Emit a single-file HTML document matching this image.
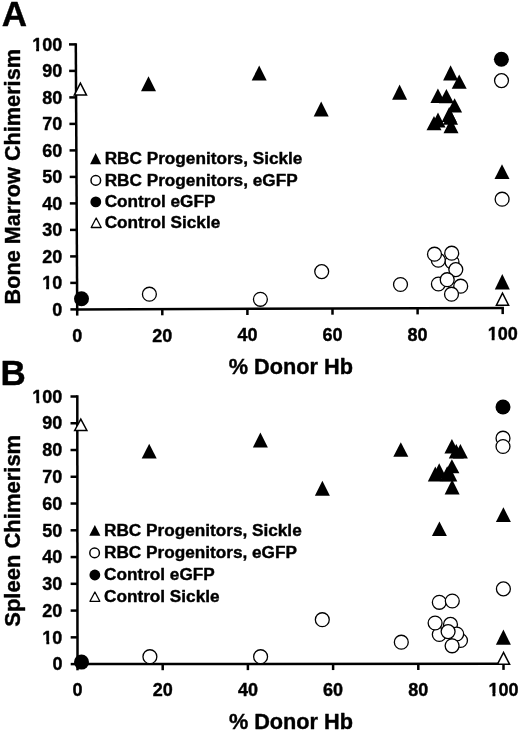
<!DOCTYPE html>
<html><head><meta charset="utf-8"><style>
html,body{margin:0;padding:0;background:#fff;width:520px;height:732px;overflow:hidden}
svg{display:block}
#w{filter:grayscale(1);width:520px;height:732px}
text{stroke:#000;stroke-width:0.4px}
</style></head><body><div id="w">
<svg width="520" height="732" viewBox="0 0 520 732" font-family='"Liberation Sans", sans-serif' font-weight="bold" stroke-linejoin="round">
<rect width="520" height="732" fill="#fff"/>
<text x="1.80" y="25.80" font-size="35" text-anchor="start" >A</text>
<text x="0.40" y="384.60" font-size="35" text-anchor="start" >B</text>
<line x1="75.95" y1="309.40" x2="503.95" y2="307.90" stroke="#000" stroke-width="2.5"/>
<line x1="77.20" y1="310.65" x2="75.80" y2="43.15" stroke="#000" stroke-width="2.5"/>
<line x1="70.40" y1="309.40" x2="77.20" y2="309.40" stroke="#000" stroke-width="2.5"/>
<text x="62.20" y="315.60" font-size="18" text-anchor="end" >0</text>
<line x1="70.26" y1="282.90" x2="77.06" y2="282.90" stroke="#000" stroke-width="2.5"/>
<text x="62.20" y="289.10" font-size="18" text-anchor="end" >10</text>
<rect x="42.11" y="286.36" width="4.05" height="4.29" fill="#fff"/>
<rect x="49.07" y="286.36" width="3.32" height="4.29" fill="#fff"/>
<line x1="70.12" y1="256.40" x2="76.92" y2="256.40" stroke="#000" stroke-width="2.5"/>
<text x="62.20" y="262.60" font-size="18" text-anchor="end" >20</text>
<line x1="69.98" y1="229.90" x2="76.78" y2="229.90" stroke="#000" stroke-width="2.5"/>
<text x="62.20" y="236.10" font-size="18" text-anchor="end" >30</text>
<line x1="69.84" y1="203.40" x2="76.64" y2="203.40" stroke="#000" stroke-width="2.5"/>
<text x="62.20" y="209.60" font-size="18" text-anchor="end" >40</text>
<line x1="69.70" y1="176.90" x2="76.50" y2="176.90" stroke="#000" stroke-width="2.5"/>
<text x="62.20" y="183.10" font-size="18" text-anchor="end" >50</text>
<line x1="69.56" y1="150.40" x2="76.36" y2="150.40" stroke="#000" stroke-width="2.5"/>
<text x="62.20" y="156.60" font-size="18" text-anchor="end" >60</text>
<line x1="69.42" y1="123.90" x2="76.22" y2="123.90" stroke="#000" stroke-width="2.5"/>
<text x="62.20" y="130.10" font-size="18" text-anchor="end" >70</text>
<line x1="69.28" y1="97.40" x2="76.08" y2="97.40" stroke="#000" stroke-width="2.5"/>
<text x="62.20" y="103.60" font-size="18" text-anchor="end" >80</text>
<line x1="69.14" y1="70.90" x2="75.94" y2="70.90" stroke="#000" stroke-width="2.5"/>
<text x="62.20" y="77.10" font-size="18" text-anchor="end" >90</text>
<line x1="69.00" y1="44.40" x2="75.80" y2="44.40" stroke="#000" stroke-width="2.5"/>
<text x="62.20" y="50.60" font-size="18" text-anchor="end" >100</text>
<rect x="32.10" y="47.86" width="4.05" height="4.29" fill="#fff"/>
<rect x="39.06" y="47.86" width="3.32" height="4.29" fill="#fff"/>
<line x1="77.20" y1="309.40" x2="77.20" y2="315.60" stroke="#000" stroke-width="2.5"/>
<text x="77.20" y="341.80" font-size="18" text-anchor="middle" >0</text>
<line x1="162.30" y1="309.10" x2="162.30" y2="315.30" stroke="#000" stroke-width="2.5"/>
<text x="162.30" y="341.50" font-size="18" text-anchor="middle" >20</text>
<line x1="247.40" y1="308.80" x2="247.40" y2="315.00" stroke="#000" stroke-width="2.5"/>
<text x="247.40" y="341.20" font-size="18" text-anchor="middle" >40</text>
<line x1="332.50" y1="308.50" x2="332.50" y2="314.70" stroke="#000" stroke-width="2.5"/>
<text x="332.50" y="340.90" font-size="18" text-anchor="middle" >60</text>
<line x1="417.60" y1="308.20" x2="417.60" y2="314.40" stroke="#000" stroke-width="2.5"/>
<text x="417.60" y="340.60" font-size="18" text-anchor="middle" >80</text>
<line x1="502.70" y1="307.90" x2="502.70" y2="314.10" stroke="#000" stroke-width="2.5"/>
<text x="502.70" y="340.30" font-size="18" text-anchor="middle" >100</text>
<rect x="487.62" y="337.56" width="4.05" height="4.29" fill="#fff"/>
<rect x="494.57" y="337.56" width="3.32" height="4.29" fill="#fff"/>
<text x="228.80" y="374.00" font-size="21.7" text-anchor="start" >% Donor Hb</text>
<text transform="translate(20.3,176.75) rotate(-90)" font-size="21.7" text-anchor="middle">Bone Marrow Chimerism</text>
<text x="104.70" y="163.90" font-size="17.2" text-anchor="start" >RBC Progenitors, Sickle</text>
<text x="104.70" y="185.80" font-size="17.2" text-anchor="start" >RBC Progenitors, eGFP</text>
<text x="104.70" y="206.90" font-size="17.2" text-anchor="start" >Control eGFP</text>
<text x="104.70" y="227.70" font-size="17.2" text-anchor="start" >Control Sickle</text>
<polygon points="95.65,153 90.1,164.2 101.2,164.2" fill="#000"/>
<circle cx="95.8" cy="180.4" r="4.8" fill="#fff" stroke="#000" stroke-width="1.5"/>
<circle cx="95.8" cy="201.9" r="5.4" fill="#000"/>
<polygon points="96.2,218.0 91.2,227.5 101.2,227.5" fill="#fff" stroke="#000" stroke-width="1.3"/>
<polygon points="148.50,76.20 141.00,91.20 156.00,91.20" fill="#000"/>
<polygon points="259.20,65.60 251.70,80.40 266.70,80.40" fill="#000"/>
<polygon points="321.20,101.50 313.70,116.50 328.70,116.50" fill="#000"/>
<polygon points="399.60,84.60 392.10,99.80 407.10,99.80" fill="#000"/>
<polygon points="450.60,65.20 443.10,80.50 458.10,80.50" fill="#000"/>
<polygon points="459.20,74.40 451.70,88.80 466.70,88.80" fill="#000"/>
<polygon points="437.90,88.40 430.40,102.90 445.40,102.90" fill="#000"/>
<polygon points="446.40,88.90 438.90,103.30 453.90,103.30" fill="#000"/>
<polygon points="454.60,98.30 447.10,112.50 462.10,112.50" fill="#000"/>
<polygon points="449.20,106.90 441.70,121.90 456.70,121.90" fill="#000"/>
<polygon points="450.50,109.70 443.00,124.70 458.00,124.70" fill="#000"/>
<polygon points="451.00,118.50 443.50,133.30 458.50,133.30" fill="#000"/>
<polygon points="438.00,112.50 430.50,127.50 445.50,127.50" fill="#000"/>
<polygon points="434.00,116.00 426.50,130.30 441.50,130.30" fill="#000"/>
<polygon points="502.00,164.20 494.50,178.90 509.50,178.90" fill="#000"/>
<polygon points="502.30,273.90 494.80,289.50 509.80,289.50" fill="#000"/>
<circle cx="149.40" cy="294.20" r="6.95" fill="#fff" stroke="#000" stroke-width="1.3"/>
<circle cx="260.40" cy="299.30" r="6.95" fill="#fff" stroke="#000" stroke-width="1.3"/>
<circle cx="321.70" cy="271.60" r="6.95" fill="#fff" stroke="#000" stroke-width="1.3"/>
<circle cx="400.50" cy="284.50" r="6.95" fill="#fff" stroke="#000" stroke-width="1.3"/>
<circle cx="452.00" cy="262.00" r="6.95" fill="#fff" stroke="#000" stroke-width="1.3"/>
<circle cx="438.30" cy="260.20" r="6.95" fill="#fff" stroke="#000" stroke-width="1.3"/>
<circle cx="434.50" cy="254.20" r="6.95" fill="#fff" stroke="#000" stroke-width="1.3"/>
<circle cx="451.70" cy="253.20" r="6.95" fill="#fff" stroke="#000" stroke-width="1.3"/>
<circle cx="455.80" cy="269.60" r="6.95" fill="#fff" stroke="#000" stroke-width="1.3"/>
<circle cx="438.40" cy="284.00" r="6.95" fill="#fff" stroke="#000" stroke-width="1.3"/>
<circle cx="460.70" cy="286.20" r="6.95" fill="#fff" stroke="#000" stroke-width="1.3"/>
<circle cx="447.20" cy="279.70" r="6.95" fill="#fff" stroke="#000" stroke-width="1.3"/>
<circle cx="451.50" cy="294.20" r="6.95" fill="#fff" stroke="#000" stroke-width="1.3"/>
<circle cx="501.50" cy="80.60" r="6.95" fill="#fff" stroke="#000" stroke-width="1.3"/>
<circle cx="502.10" cy="199.20" r="6.95" fill="#fff" stroke="#000" stroke-width="1.3"/>
<circle cx="81.50" cy="298.80" r="7.50" fill="#000"/>
<circle cx="501.40" cy="59.30" r="7.50" fill="#000"/>
<polygon points="80.40,83.10 74.30,95.05 86.50,95.05" fill="#fff" stroke="#000" stroke-width="1.5" stroke-linejoin="miter"/>
<polygon points="502.50,293.20 496.40,305.15 508.60,305.15" fill="#fff" stroke="#000" stroke-width="1.5" stroke-linejoin="miter"/>
<line x1="76.25" y1="664.10" x2="504.75" y2="663.70" stroke="#000" stroke-width="2.5"/>
<line x1="77.50" y1="665.35" x2="77.30" y2="395.25" stroke="#000" stroke-width="2.5"/>
<line x1="70.70" y1="664.10" x2="77.50" y2="664.10" stroke="#000" stroke-width="2.5"/>
<text x="62.40" y="670.30" font-size="18" text-anchor="end" >0</text>
<line x1="70.68" y1="637.34" x2="77.48" y2="637.34" stroke="#000" stroke-width="2.5"/>
<text x="62.40" y="643.54" font-size="18" text-anchor="end" >10</text>
<rect x="42.31" y="640.80" width="4.05" height="4.29" fill="#fff"/>
<rect x="49.27" y="640.80" width="3.32" height="4.29" fill="#fff"/>
<line x1="70.66" y1="610.58" x2="77.46" y2="610.58" stroke="#000" stroke-width="2.5"/>
<text x="62.40" y="616.78" font-size="18" text-anchor="end" >20</text>
<line x1="70.64" y1="583.82" x2="77.44" y2="583.82" stroke="#000" stroke-width="2.5"/>
<text x="62.40" y="590.02" font-size="18" text-anchor="end" >30</text>
<line x1="70.62" y1="557.06" x2="77.42" y2="557.06" stroke="#000" stroke-width="2.5"/>
<text x="62.40" y="563.26" font-size="18" text-anchor="end" >40</text>
<line x1="70.60" y1="530.30" x2="77.40" y2="530.30" stroke="#000" stroke-width="2.5"/>
<text x="62.40" y="536.50" font-size="18" text-anchor="end" >50</text>
<line x1="70.58" y1="503.54" x2="77.38" y2="503.54" stroke="#000" stroke-width="2.5"/>
<text x="62.40" y="509.74" font-size="18" text-anchor="end" >60</text>
<line x1="70.56" y1="476.78" x2="77.36" y2="476.78" stroke="#000" stroke-width="2.5"/>
<text x="62.40" y="482.98" font-size="18" text-anchor="end" >70</text>
<line x1="70.54" y1="450.02" x2="77.34" y2="450.02" stroke="#000" stroke-width="2.5"/>
<text x="62.40" y="456.22" font-size="18" text-anchor="end" >80</text>
<line x1="70.52" y1="423.26" x2="77.32" y2="423.26" stroke="#000" stroke-width="2.5"/>
<text x="62.40" y="429.46" font-size="18" text-anchor="end" >90</text>
<line x1="70.50" y1="396.50" x2="77.30" y2="396.50" stroke="#000" stroke-width="2.5"/>
<text x="62.40" y="402.70" font-size="18" text-anchor="end" >100</text>
<rect x="32.30" y="399.96" width="4.05" height="4.29" fill="#fff"/>
<rect x="39.26" y="399.96" width="3.32" height="4.29" fill="#fff"/>
<line x1="77.50" y1="664.10" x2="77.50" y2="670.30" stroke="#000" stroke-width="2.5"/>
<text x="77.50" y="696.30" font-size="18" text-anchor="middle" >0</text>
<line x1="162.70" y1="664.02" x2="162.70" y2="670.22" stroke="#000" stroke-width="2.5"/>
<text x="162.70" y="696.22" font-size="18" text-anchor="middle" >20</text>
<line x1="247.90" y1="663.94" x2="247.90" y2="670.14" stroke="#000" stroke-width="2.5"/>
<text x="247.90" y="696.14" font-size="18" text-anchor="middle" >40</text>
<line x1="333.10" y1="663.86" x2="333.10" y2="670.06" stroke="#000" stroke-width="2.5"/>
<text x="333.10" y="696.06" font-size="18" text-anchor="middle" >60</text>
<line x1="418.30" y1="663.78" x2="418.30" y2="669.98" stroke="#000" stroke-width="2.5"/>
<text x="418.30" y="695.98" font-size="18" text-anchor="middle" >80</text>
<line x1="503.50" y1="663.70" x2="503.50" y2="669.90" stroke="#000" stroke-width="2.5"/>
<text x="503.50" y="695.90" font-size="18" text-anchor="middle" >100</text>
<rect x="488.42" y="693.16" width="4.05" height="4.29" fill="#fff"/>
<rect x="495.37" y="693.16" width="3.32" height="4.29" fill="#fff"/>
<text x="228.90" y="728.80" font-size="21.7" text-anchor="start" >% Donor Hb</text>
<text transform="translate(19.8,530.8) rotate(-90)" font-size="22" text-anchor="middle">Spleen Chimerism</text>
<text x="104.00" y="535.90" font-size="17.2" text-anchor="start" >RBC Progenitors, Sickle</text>
<text x="104.00" y="558.20" font-size="17.2" text-anchor="start" >RBC Progenitors, eGFP</text>
<text x="104.00" y="580.00" font-size="17.2" text-anchor="start" >Control eGFP</text>
<text x="104.00" y="601.80" font-size="17.2" text-anchor="start" >Control Sickle</text>
<polygon points="94.85,525 89.3,535.8 100.4,535.8" fill="#000"/>
<circle cx="94.6" cy="552.9" r="4.8" fill="#fff" stroke="#000" stroke-width="1.5"/>
<circle cx="94.85" cy="575" r="5.4" fill="#000"/>
<polygon points="94.9,592.0 90.0,601.3 99.8,601.3" fill="#fff" stroke="#000" stroke-width="1.3"/>
<polygon points="149.20,443.80 141.70,458.60 156.70,458.60" fill="#000"/>
<polygon points="260.40,432.40 252.90,447.40 267.90,447.40" fill="#000"/>
<polygon points="322.40,480.80 314.90,495.80 329.90,495.80" fill="#000"/>
<polygon points="400.80,442.30 393.30,456.70 408.30,456.70" fill="#000"/>
<polygon points="451.90,439.10 444.40,453.60 459.40,453.60" fill="#000"/>
<polygon points="456.30,443.90 448.80,458.40 463.80,458.40" fill="#000"/>
<polygon points="460.40,443.90 452.90,458.40 467.90,458.40" fill="#000"/>
<polygon points="451.90,459.30 444.40,473.30 459.40,473.30" fill="#000"/>
<polygon points="439.20,463.20 431.70,478.20 446.70,478.20" fill="#000"/>
<polygon points="435.30,466.60 427.80,481.40 442.80,481.40" fill="#000"/>
<polygon points="447.20,466.20 439.70,481.20 454.70,481.20" fill="#000"/>
<polygon points="449.80,466.50 442.30,481.40 457.30,481.40" fill="#000"/>
<polygon points="452.10,479.40 444.60,494.40 459.60,494.40" fill="#000"/>
<polygon points="503.40,507.20 495.90,522.00 510.90,522.00" fill="#000"/>
<polygon points="503.40,629.50 495.90,644.70 510.90,644.70" fill="#000"/>
<polygon points="439.40,521.50 431.90,536.00 446.90,536.00" fill="#000"/>
<circle cx="149.90" cy="656.70" r="6.95" fill="#fff" stroke="#000" stroke-width="1.3"/>
<circle cx="260.60" cy="656.70" r="6.95" fill="#fff" stroke="#000" stroke-width="1.3"/>
<circle cx="322.30" cy="619.70" r="6.95" fill="#fff" stroke="#000" stroke-width="1.3"/>
<circle cx="401.30" cy="642.20" r="6.95" fill="#fff" stroke="#000" stroke-width="1.3"/>
<circle cx="439.30" cy="602.30" r="6.95" fill="#fff" stroke="#000" stroke-width="1.3"/>
<circle cx="452.30" cy="601.00" r="6.95" fill="#fff" stroke="#000" stroke-width="1.3"/>
<circle cx="450.50" cy="624.40" r="6.95" fill="#fff" stroke="#000" stroke-width="1.3"/>
<circle cx="439.30" cy="634.50" r="6.95" fill="#fff" stroke="#000" stroke-width="1.3"/>
<circle cx="435.10" cy="623.00" r="6.95" fill="#fff" stroke="#000" stroke-width="1.3"/>
<circle cx="460.50" cy="640.50" r="6.95" fill="#fff" stroke="#000" stroke-width="1.3"/>
<circle cx="456.70" cy="634.00" r="6.95" fill="#fff" stroke="#000" stroke-width="1.3"/>
<circle cx="448.10" cy="631.60" r="6.95" fill="#fff" stroke="#000" stroke-width="1.3"/>
<circle cx="452.10" cy="645.80" r="6.95" fill="#fff" stroke="#000" stroke-width="1.3"/>
<circle cx="503.00" cy="438.20" r="6.95" fill="#fff" stroke="#000" stroke-width="1.3"/>
<circle cx="503.00" cy="446.50" r="6.95" fill="#fff" stroke="#000" stroke-width="1.3"/>
<circle cx="503.40" cy="588.90" r="6.95" fill="#fff" stroke="#000" stroke-width="1.3"/>
<circle cx="81.50" cy="662.10" r="7.50" fill="#000"/>
<circle cx="503.00" cy="407.00" r="7.50" fill="#000"/>
<polygon points="80.80,419.10 74.70,430.45 86.90,430.45" fill="#fff" stroke="#000" stroke-width="1.5" stroke-linejoin="miter"/>
<polygon points="503.50,652.50 497.40,664.35 509.60,664.35" fill="#fff" stroke="#000" stroke-width="1.5" stroke-linejoin="miter"/>
</svg>
</div></body></html>
